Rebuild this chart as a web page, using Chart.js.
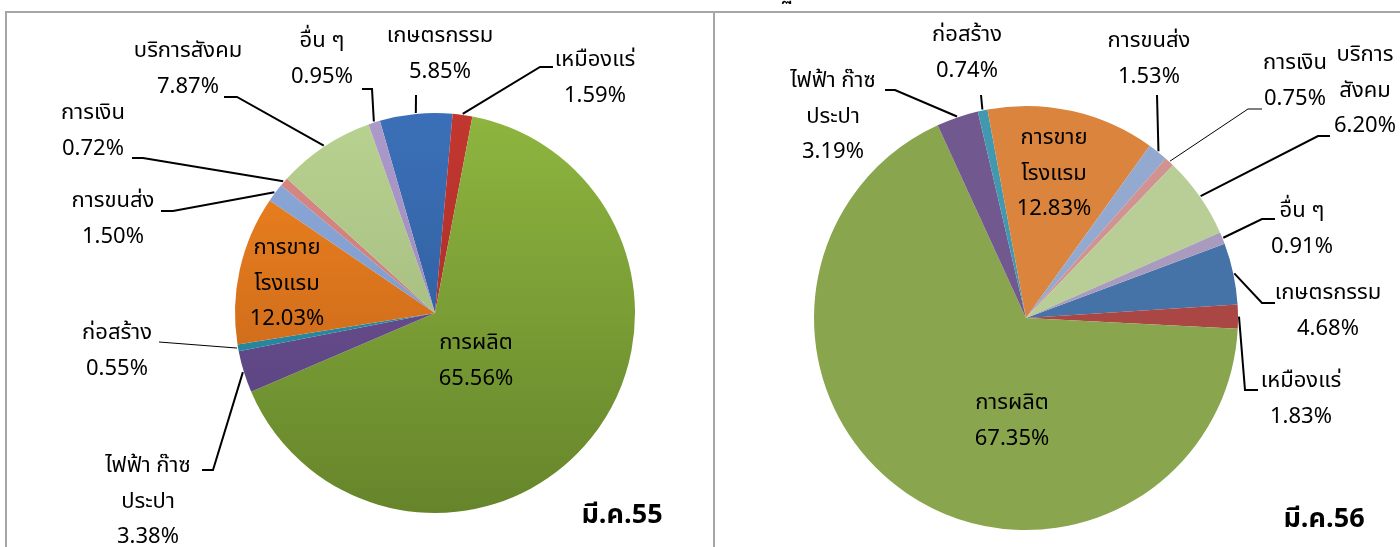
<!DOCTYPE html>
<html>
<head>
  <meta charset="utf-8" />
  <title>สัดส่วนผลิตภัณฑ์ มี.ค.55 / มี.ค.56</title>
  <script src="https://cdn.jsdelivr.net/npm/chart.js@4.4.1/dist/chart.umd.min.js"></script>
  <style>
    html, body { margin: 0; padding: 0; background: #fff; }
    #stage { position: relative; width: 1400px; height: 547px; overflow: hidden; }
    .frame { position: absolute; background: #a6a6a6; }
    .layer { position: absolute; left: 0; top: 0; width: 1400px; height: 547px; }
  </style>
</head>
<body>
  <div id="stage">
    <div class="frame" style="left:5px;top:11px;width:1395px;height:2px"></div>
    <div class="frame" style="left:5px;top:11px;width:2px;height:536px"></div>
    <div class="frame" style="left:713px;top:11px;width:2px;height:536px"></div>
    <div class="layer"><canvas id="chart55"></canvas></div>
    <div class="layer"><canvas id="chart56"></canvas></div>
  </div>

  <script>
    // data (percent share)
    const categories = ['เกษตรกรรม', 'เหมืองแร่', 'การผลิต', 'ไฟฟ้า ก๊าซ ประปา', 'ก่อสร้าง',
                        'การขาย โรงแรม', 'การขนส่ง', 'การเงิน', 'บริการสังคม', 'อื่น ๆ'];
    const shareMar55 = [5.85, 1.59, 65.56, 3.38, 0.55, 12.03, 1.50, 0.72, 7.87, 0.95];
    const shareMar56 = [4.68, 1.83, 67.35, 3.19, 0.74, 12.83, 1.53, 0.75, 6.20, 0.91];
    const periodLabels = ['มี.ค.55', 'มี.ค.56'];

    // colours
    const topColors55 = ['#3b70b8', '#c2372f', '#8eb53f', '#73559b', '#2c9ab4',
                         '#f3861f', '#8eaadc', '#da8a87', '#b8d290', '#ac9acb'];
    const bottomColors55 = ['#2a5590', '#9c2b27', '#66852b', '#553f79', '#22788d',
                            '#b95d1a', '#7190bd', '#bd7471', '#9aae77', '#917fad'];
    const colors56 = ['#4572a7', '#aa4643', '#89a54e', '#71588f', '#4198af',
                      '#db843d', '#93a9cf', '#d19392', '#b9cd96', '#a99bbd'];

    const FONT = "Tahoma, 'Noto Sans Thai', 'Noto Sans', 'DejaVu Sans', sans-serif";
    const LINE_H = 35.5;

    // label placement (page px): text centre of first line, optional wrap point,
    // leader = [start x, start y, elbow x, elbow y] then on to the slice edge
    const layout55 = [
      { x: 440, y: 38, leader: [416, 95, 416, 95] },
      { x: 595, y: 62, leader: [553, 67, 540, 67] },
      { x: 476, y: 345 },
      { x: 148, y: 468, br: 'ไฟฟ้า ก๊าซ', leader: [202, 470, 213, 470] },
      { x: 117, y: 335, leader: [159, 342, 159, 342], thin: true },
      { x: 287, y: 250, br: 'การขาย' },
      { x: 113, y: 203, leader: [161, 211, 173, 211] },
      { x: 93, y: 115, leader: [132, 158, 143, 158] },
      { x: 188, y: 53, leader: [224, 97, 237, 97] },
      { x: 322, y: 43, leader: [362, 89, 372, 89] }
    ];
    const layout56 = [
      { x: 1328, y: 295, leader: [1275, 303, 1262, 303] },
      { x: 1301, y: 383, leader: [1258, 390, 1245, 390] },
      { x: 1012, y: 405 },
      { x: 833, y: 83, br: 'ไฟฟ้า ก๊าซ', leader: [885, 90, 895, 90] },
      { x: 967, y: 37, leader: [981, 95, 981, 95] },
      { x: 1054, y: 140, br: 'การขาย' },
      { x: 1149, y: 43, leader: [1157, 95, 1157, 95] },
      { x: 1295, y: 65, leader: [1262, 109, 1248, 109], thin: true },
      { x: 1365, y: 57, br: 'บริการ', leader: [1330, 136, 1318, 136] },
      { x: 1302, y: 213, leader: [1275, 219, 1262, 219] }
    ];

    function splitLabel(name, br) {
      if (br && name.startsWith(br)) return [br, name.slice(br.length).trim()];
      return [name];
    }

    // draws the Excel style callouts, leader lines and the period tag
    const calloutPlugin = {
      id: 'callouts',
      afterDatasetsDraw(chart, args, opts) {
        const ctx = chart.ctx;
        const meta = chart.getDatasetMeta(0);
        const values = chart.data.datasets[0].data;
        ctx.save();
        ctx.strokeStyle = '#000';
        ctx.lineCap = 'butt';
        meta.data.forEach((arc, i) => {
          const lay = opts.layout[i];
          const lead = lay.leader;
          if (lead) {
            const mid = (arc.startAngle + arc.endAngle) / 2;
            const ex = arc.x + Math.cos(mid) * (arc.outerRadius + 1);
            const ey = arc.y + Math.sin(mid) * (arc.outerRadius + 1);
            ctx.lineWidth = lay.thin ? 1 : 2;
            ctx.beginPath();
            ctx.moveTo(lead[0], lead[1]);
            ctx.lineTo(lead[2], lead[3]);
            ctx.lineTo(ex, ey);
            ctx.stroke();
          }
          const lines = splitLabel(chart.data.labels[i], lay.br);
          lines.push(values[i].toFixed(2) + '%');
          ctx.fillStyle = '#000';
          ctx.font = '22px ' + FONT;
          ctx.textAlign = 'center';
          ctx.textBaseline = 'middle';
          lines.forEach((t, k) => ctx.fillText(t, lay.x, lay.y + k * LINE_H));
        });
        ctx.font = 'bold 27px ' + FONT;
        ctx.textAlign = 'center';
        ctx.textBaseline = 'middle';
        ctx.fillText(opts.period, opts.periodX, opts.periodY);
        if (opts.titleGlyph) {
          // only the tail of the title shows above the frame
          ctx.font = '22px ' + FONT;
          ctx.textBaseline = 'alphabetic';
          ctx.fillText(opts.titleGlyph, 787, 0);
        }
        ctx.restore();
      }
    };

    function gradientFill(c) {
      const area = c.chart.chartArea;
      const i = c.dataIndex;
      if (!area) return topColors55[i];
      const g = c.chart.ctx.createLinearGradient(0, area.top, 0, area.bottom);
      g.addColorStop(0, topColors55[i]);
      g.addColorStop(1, bottomColors55[i]);
      return g;
    }

    function makePie(id, values, fill, rotation, padding, calloutOpts) {
      return new Chart(document.getElementById(id), {
        type: 'pie',
        data: {
          labels: categories,
          datasets: [{ data: values, backgroundColor: fill, borderWidth: 0, hoverOffset: 0 }]
        },
        options: {
          responsive: true,
          maintainAspectRatio: false,
          animation: false,
          events: [],
          rotation: rotation,
          layout: { padding: padding },
          plugins: {
            legend: { display: false },
            tooltip: { enabled: false },
            callouts: calloutOpts
          }
        },
        plugins: [calloutPlugin]
      });
    }

    // left pie: centre (435, 313), r 200
    makePie('chart55', shareMar55, gradientFill, -16,
      { left: 235, right: 765, top: 113, bottom: 34 },
      { layout: layout55, period: periodLabels[0], periodX: 622, periodY: 518 });

    // right pie: centre (1026, 318), r 212
    makePie('chart56', shareMar56, colors56, 69.5,
      { left: 814, right: 162, top: 106, bottom: 17 },
      { layout: layout56, period: periodLabels[1], periodX: 1324, periodY: 522, titleGlyph: 'ฐ' });
  </script>
</body>
</html>
